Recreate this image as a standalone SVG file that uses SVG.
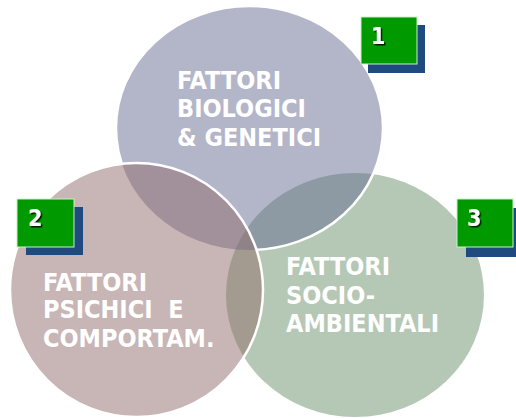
<svg xmlns="http://www.w3.org/2000/svg" width="516" height="418" viewBox="0 0 516 418">
<style>
.lbl{font-family:"DejaVu Sans Condensed","DejaVu Sans",Verdana,sans-serif;font-stretch:condensed;font-weight:bold;font-size:25px;fill:#ffffff;white-space:pre}
.num{font-family:"DejaVu Sans Condensed","DejaVu Sans",Verdana,sans-serif;font-stretch:condensed;font-weight:bold;font-size:23px;fill:#ffffff;filter:url(#ds)}
.badge{fill:#009900;stroke:#c8f0c8;stroke-width:1}
.shadow{fill:#1f4a80}
.edge{fill:none;stroke:#ffffff;stroke-width:2.5}
</style>
<defs>
<filter id="ds" x="-50%" y="-50%" width="200%" height="200%">
<feDropShadow dx="1.5" dy="1.5" stdDeviation="0.4" flood-color="#000000" flood-opacity="0.8"/>
</filter>
<mask id="outLeft" maskUnits="userSpaceOnUse" x="0" y="0" width="516" height="418">
<rect x="0" y="0" width="516" height="418" fill="#ffffff"/>
<ellipse cx="136.5" cy="290" rx="126.5" ry="127" fill="#000000"/>
</mask>
</defs>
<rect width="516" height="418" fill="#ffffff"/>
<g id="connectors"/>
<g id="node3">
<ellipse cx="355" cy="295" rx="129" ry="122" fill="#6b916b" fill-opacity="0.5"/>
</g>
<g id="node1">
<ellipse cx="249.5" cy="128" rx="133.5" ry="122" fill="#676b91" fill-opacity="0.5"/>
<ellipse class="edge" cx="249.5" cy="128" rx="133.5" ry="122" mask="url(#outLeft)"/>
</g>
<g id="node2">
<ellipse cx="136.5" cy="290" rx="126.5" ry="127" fill="#916b6b" fill-opacity="0.5"/>
<ellipse class="edge" cx="136.5" cy="290" rx="126.5" ry="127"/>
</g>
<g id="label1">
<text class="lbl" x="177" y="89">FATTORI</text>
<text class="lbl" x="177" y="117">BIOLOGICI</text>
<text class="lbl" x="177" y="146">&amp; GENETICI</text>
</g>
<g id="label2">
<text class="lbl" x="43" y="291">FATTORI</text>
<text class="lbl" x="43" y="318">PSICHICI  E</text>
<text class="lbl" x="43" y="347">COMPORTAM.</text>
</g>
<g id="label3">
<text class="lbl" x="286" y="275">FATTORI</text>
<text class="lbl" x="286" y="304">SOCIO-</text>
<text class="lbl" x="286" y="332">AMBIENTALI</text>
</g>
<g id="badge1">
<rect class="shadow" x="368" y="25" width="57" height="48"/>
<rect class="badge" x="361" y="17" width="56" height="47"/>
<text class="num" x="371" y="44">1</text>
</g>
<g id="badge2">
<rect class="shadow" x="26" y="207" width="57" height="48"/>
<rect class="badge" x="17" y="199" width="57" height="48"/>
<text class="num" x="28" y="226">2</text>
</g>
<g id="badge3">
<rect class="shadow" x="466" y="208" width="57" height="49"/>
<rect class="badge" x="457" y="199" width="56" height="48"/>
<text class="num" x="467" y="226">3</text>
</g>
</svg>
